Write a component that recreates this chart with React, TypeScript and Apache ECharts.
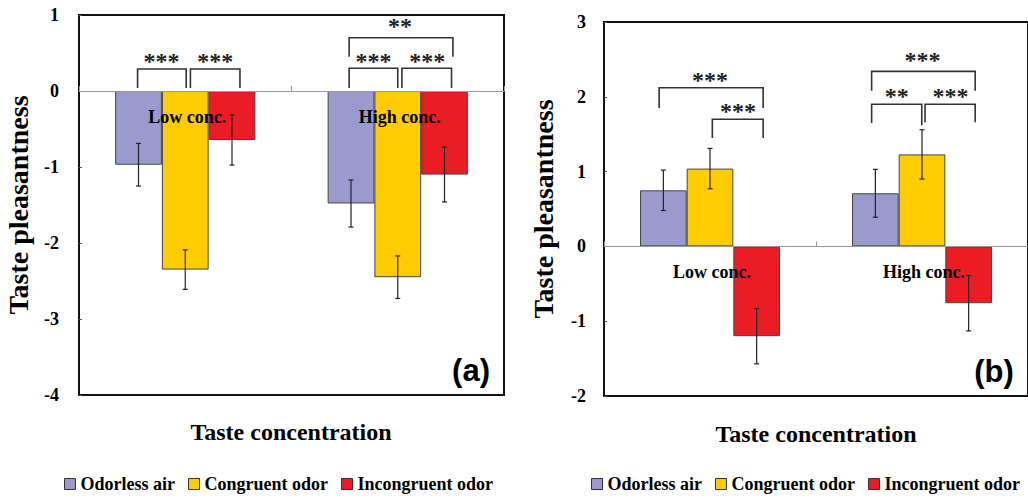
import React, { useEffect, useRef } from "react";
import * as echarts from "echarts";

const categories = ["Low conc.", "High conc."];
const seriesNames = ["Odorless air", "Congruent odor", "Incongruent odor"];
const colors = ["#9A9ACF", "#FFCC00", "#EC1C24"];

// Panel (a)
const aOdorless = [-0.97, -1.48];
const aCongruent = [-2.35, -2.45];
const aIncongruent = [-0.645, -1.1];
const aOdorlessErr = [0.28, 0.31];
const aCongruentErr = [0.26, 0.28];
const aIncongruentErr = [0.33, 0.36];

// Panel (b)
const bOdorless = [0.75, 0.71];
const bCongruent = [1.04, 1.23];
const bIncongruent = [-1.2, -0.76];
const bOdorlessErr = [0.27, 0.32];
const bCongruentErr = [0.27, 0.33];
const bIncongruentErr = [0.37, 0.37];

// Significance brackets: [category, x1 (bar widths from centre), x2, yTop, yLeftLeg, yRightLeg]
const aBrackets = [
  [0, -1.02, 0.02, 0.29, 0.04, 0.04],
  [0, 0.11, 1.17, 0.29, 0.04, 0.04],
  [1, -1.04, 0.0, 0.3, 0.04, 0.04],
  [1, 0.09, 1.15, 0.3, 0.04, 0.04],
  [1, -1.04, 1.18, 0.7, 0.45, 0.45],
];
const aStars = [
  [0, -0.51, 0.45],
  [0, 0.64, 0.45],
  [1, -0.52, 0.45],
  [1, 0.63, 0.45],
  [1, 0.05, 0.91],
];
const aStarLabels = ["***", "***", "***", "***", "**"];

const bBrackets = [
  [0, -1.09, 1.14, 2.12, 1.85, 1.85],
  [0, 0.05, 1.14, 1.7, 1.45, 1.45],
  [1, -1.08, 1.14, 2.34, 2.08, 2.08],
  [1, -1.08, -0.005, 1.9, 1.65, 1.62],
  [1, 0.065, 1.14, 1.9, 1.66, 1.66],
];
const bStars = [
  [0, 0.0, 2.28],
  [0, 0.6, 1.86],
  [1, 0.01, 2.55],
  [1, -0.54, 2.07],
  [1, 0.61, 2.07],
];
const bStarLabels = ["***", "***", "***", "**", "***"];

const BAR_RATIO = 0.22;
const SERIF = "Liberation Serif";

function errData(vals: number[][], errs: number[][]) {
  const out: number[][] = [];
  vals.forEach((arr, s) => arr.forEach((v, c) => out.push([c, s, v, errs[s][c]])));
  return out;
}

function panelSeries(
  idx: number,
  vals: number[][],
  errs: number[][],
  brackets: number[][],
  stars: number[][],
  starLabels: string[]
) {
  const bars = vals.map((v, s) => ({
    type: "bar",
    name: seriesNames[s],
    xAxisIndex: idx,
    yAxisIndex: idx,
    data: v,
    barWidth: "22%",
    barGap: "0%",
    itemStyle: { color: colors[s], borderColor: "#444", borderWidth: 1 },
    z: 2,
  }));
  const errSeries = {
    type: "custom",
    xAxisIndex: idx,
    yAxisIndex: idx,
    data: errData(vals, errs),
    encode: { x: 0, y: 2 },
    z: 4,
    renderItem: (params: any, api: any) => {
      const band = api.size([1, 0])[0];
      const bw = band * BAR_RATIO;
      const c = api.value(0);
      const s = api.value(1);
      const v = api.value(2);
      const e = api.value(3);
      const x = api.coord([c, v])[0] + (s - 1) * bw;
      const yHi = api.coord([c, v + e])[1];
      const yLo = api.coord([c, v - e])[1];
      const cap = 2.5;
      const st = { stroke: "#222", lineWidth: 1.2 };
      return {
        type: "group",
        children: [
          { type: "line", shape: { x1: x, y1: yHi, x2: x, y2: yLo }, style: st },
          { type: "line", shape: { x1: x - cap, y1: yHi, x2: x + cap, y2: yHi }, style: st },
          { type: "line", shape: { x1: x - cap, y1: yLo, x2: x + cap, y2: yLo }, style: st },
        ],
      };
    },
  };
  const bracketSeries = {
    type: "custom",
    xAxisIndex: idx,
    yAxisIndex: idx,
    data: brackets,
    encode: { x: 0, y: 3 },
    z: 4,
    renderItem: (params: any, api: any) => {
      const band = api.size([1, 0])[0];
      const bw = band * BAR_RATIO;
      const c = api.value(0);
      const cx = api.coord([c, 0])[0];
      const x1 = cx + api.value(1) * bw;
      const x2 = cx + api.value(2) * bw;
      const yT = api.coord([c, api.value(3)])[1];
      const yL = api.coord([c, api.value(4)])[1];
      const yR = api.coord([c, api.value(5)])[1];
      return {
        type: "polyline",
        shape: { points: [[x1, yL], [x1, yT], [x2, yT], [x2, yR]] },
        style: { stroke: "#333", lineWidth: 1.6, fill: null },
      };
    },
  };
  const starSeries = {
    type: "custom",
    xAxisIndex: idx,
    yAxisIndex: idx,
    data: stars,
    encode: { x: 0, y: 2 },
    z: 4,
    renderItem: (params: any, api: any) => {
      const band = api.size([1, 0])[0];
      const bw = band * BAR_RATIO;
      const c = api.value(0);
      const p = api.coord([c, api.value(2)]);
      return {
        type: "text",
        x: p[0] + api.value(1) * bw,
        y: p[1] + 4,
        style: {
          text: starLabels[params.dataIndex],
          fontFamily: SERIF,
          fontWeight: "bold",
          fontSize: 24,
          fill: "#222",
          align: "center",
          verticalAlign: "middle",
        },
      };
    },
  };
  // category labels sitting just under the zero line, drawn above the bars
  const catLabelSeries = {
    type: "custom",
    xAxisIndex: idx,
    yAxisIndex: idx,
    data: categories.map((_, i) => [i, 0]),
    encode: { x: 0, y: 1 },
    z: 10,
    renderItem: (params: any, api: any) => {
      const p = api.coord([api.value(0), api.value(1)]);
      return {
        type: "text",
        x: p[0] + 2,
        y: p[1] + 26,
        style: {
          text: categories[params.dataIndex],
          fontFamily: SERIF,
          fontWeight: "bold",
          fontSize: 18,
          fill: "#000",
          align: "center",
          verticalAlign: "middle",
        },
      };
    },
  };
  return [...bars, errSeries, bracketSeries, starSeries, catLabelSeries];
}

const tickLabel = { fontFamily: SERIF, fontWeight: "bold", fontSize: 18, color: "#000" };

function makeYAxis(idx: number, min: number, max: number, margin: number) {
  return {
    type: "value",
    gridIndex: idx,
    min,
    max,
    interval: 1,
    axisLine: { show: false },
    axisTick: { show: true, inside: true, length: 3, lineStyle: { color: "#555" } },
    splitLine: { show: false },
    axisLabel: { ...tickLabel, margin },
    name: "Taste pleasantness",
    nameLocation: "middle",
    nameGap: 47,
    nameTextStyle: { fontFamily: SERIF, fontWeight: "bold", fontSize: 28, color: "#000" },
  };
}

function makeXAxis(idx: number) {
  return {
    type: "category",
    gridIndex: idx,
    data: categories,
    z: 10,
    axisLine: { onZero: true, lineStyle: { color: "#999", width: 1 } },
    axisTick: { show: true, inside: true, length: 5, lineStyle: { color: "#999" } },
    axisLabel: { show: false },
  };
}

export default function App() {
  const ref = useRef<HTMLDivElement>(null);
  useEffect(() => {
    if (!ref.current) return;
    const chart = echarts.init(ref.current, null, { renderer: "svg" });
    const legendBase = {
      data: seriesNames,
      icon: "rect",
      itemWidth: 11,
      itemHeight: 11,
      itemGap: 13,
      top: 475,
      padding: 0,
      width: 460,
      itemStyle: { borderColor: "#333", borderWidth: 1 },
      textStyle: { fontFamily: SERIF, fontWeight: "bold", fontSize: 18, color: "#000" },
      selectedMode: false,
    };
    const nameFont = { fontFamily: SERIF, fontWeight: "bold", fontSize: 24, fill: "#000" };
    const option: any = {
      animation: false,
      backgroundColor: "#fff",
      grid: [
        { left: 79, top: 15, width: 425, height: 380, show: true, borderColor: "#111", borderWidth: 2, backgroundColor: "transparent" },
        { left: 604, top: 22, width: 425, height: 374, show: true, borderColor: "#111", borderWidth: 2, backgroundColor: "transparent" },
      ],
      xAxis: [makeXAxis(0), makeXAxis(1)],
      yAxis: [makeYAxis(0, -4, 1, 20), makeYAxis(1, -2, 3, 18)],
      legend: [
        { ...legendBase, left: 64 },
        { ...legendBase, left: 591 },
      ],
      series: [
        ...panelSeries(
          0,
          [aOdorless, aCongruent, aIncongruent],
          [aOdorlessErr, aCongruentErr, aIncongruentErr],
          aBrackets,
          aStars,
          aStarLabels
        ),
        ...panelSeries(
          1,
          [bOdorless, bCongruent, bIncongruent],
          [bOdorlessErr, bCongruentErr, bIncongruentErr],
          bBrackets,
          bStars,
          bStarLabels
        ),
      ],
      graphic: [
        { type: "text", x: 291, y: 432, style: { ...nameFont, text: "Taste concentration", align: "center", verticalAlign: "middle" } },
        { type: "text", x: 816, y: 434, style: { ...nameFont, text: "Taste concentration", align: "center", verticalAlign: "middle" } },
        { type: "text", x: 471, y: 370, style: { text: "(a)", fontFamily: "Liberation Sans", fontWeight: "bold", fontSize: 31, fill: "#000", align: "center", verticalAlign: "middle" } },
        { type: "text", x: 994, y: 371, style: { text: "(b)", fontFamily: "Liberation Sans", fontWeight: "bold", fontSize: 31, fill: "#000", align: "center", verticalAlign: "middle" } },
      ],
    };
    chart.setOption(option);
    return () => chart.dispose();
  }, []);
  return <div ref={ref} style={{ position: "fixed", left: 0, top: 0, width: 1028, height: 498 }} />;
}
